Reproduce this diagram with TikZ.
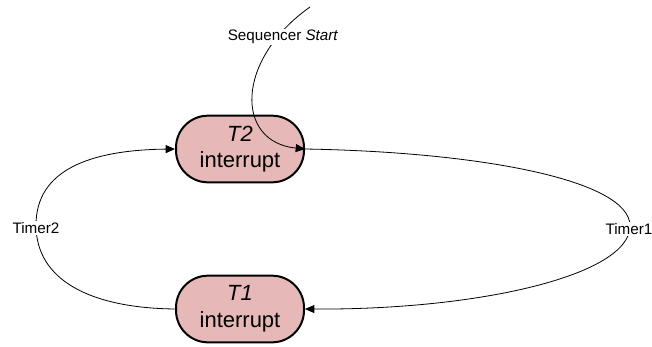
\documentclass[tikz,border=0pt]{standalone}
\usepackage{fontspec}
\setmainfont{Liberation Sans}
\usepackage{tikz}
\usetikzlibrary{arrows.meta}
\definecolor{intpink}{RGB}{230,184,183}
\tikzset{
    %Define standard arrow tip
    >={Triangle[length=7pt,width=6pt]},
    %Define style for the interrupt boxes
    intbox/.style={
           rectangle,
           rounded corners=24pt,
           draw=black, line width=1.5pt,
           fill=intpink,
           minimum width=96pt,
           minimum height=50pt,
           inner sep=0pt,
           font=\fontsize{16.5}{20}\selectfont,
           align=center},
    % Define style for the labels on the arcs
    arclabel/.style={
           fill=white,
           inner sep=1pt,
           font=\fontsize{11.4}{13}\selectfont},
    % Define arrow style
    pil/.style={
           ->,
           line width=0.6pt}
}

\begin{document}
\begin{tikzpicture}[x=0.75pt,y=-0.75pt]
\useasboundingbox (0,0) rectangle (652,346);

 %nodes
\node[intbox] (t2) at (240,149) {\textit{T2}\\interrupt};
\node[intbox] (t1) at (240,309) {\textit{T1}\\interrupt};
\coordinate (seq) at (310,7);
\coordinate (tm1) at (630,226);
\coordinate (tm2) at (36,225);

 %arcs
\draw[pil] (seq) .. controls (235,60) and (235,142) .. (t2.east);
\draw[pil] (t2.east) .. controls (480,152) and (630,180) .. (tm1)
    .. controls (630,275) and (480,310) .. (t1.east);
\draw[pil] (t1.west) .. controls (90,308) and (36,280) .. (tm2)
    .. controls (36,170) and (90,150) .. (t2.west);

 %labels
\node[arclabel] (seqlbl) at (283,37) {Sequencer \textit{Start}};
\node[arclabel] (tm1lbl) at (629,229) {Timer1};
\node[arclabel] (tm2lbl) at (36,228) {Timer2};
\end{tikzpicture}
\end{document}
